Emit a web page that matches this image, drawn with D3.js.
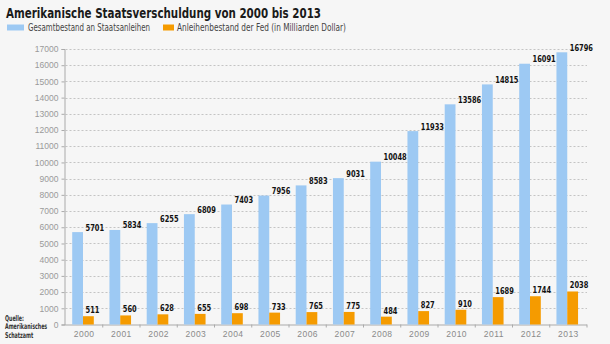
<!DOCTYPE html>
<html>
<head>
<meta charset="utf-8">
<script src="https://cdn.jsdelivr.net/npm/d3@7"></script>
<style>
  html, body { margin: 0; padding: 0; background: #f6f6f6; }
  svg { display: block; }
  .cond { font-family: "Liberation Sans Narrow", "DejaVu Sans Condensed", "Arial Narrow", sans-serif; }
  .tick text { font-family: "Liberation Sans", Arial, sans-serif; }
</style>
</head>
<body>
<svg width="610" height="344"></svg>
<script>
// Data
const years = ["2000","2001","2002","2003","2004","2005","2006","2007","2008","2009","2010","2011","2012","2013"];
const gesamt = [5701, 5834, 6255, 6809, 7403, 7956, 8583, 9031, 10048, 11933, 13586, 14815, 16091, 16796];
const fed = [511, 560, 628, 655, 698, 733, 765, 775, 484, 827, 910, 1689, 1744, 2038];
const yTicks = d3.range(0, 17001, 1000);
const seriesNames = ["Gesamtbestand an Staatsanleihen", "Anleihenbestand der Fed (in Milliarden Dollar)"];
const colors = ["#9dc9f3", "#f59b00"];

const width = 610, height = 344;
const plotLeft = 64.5, plotRight = 587, plotTop = 49, plotBottom = 324.5;

const svg = d3.select("svg");

// narrow a text horizontally so the condensed face fits
function squeeze(sel, factor) {
  sel.each(function () {
    const w = this.getComputedTextLength();
    d3.select(this).attr("textLength", w * factor).attr("lengthAdjust", "spacingAndGlyphs");
  });
}

svg.append("rect").attr("width", width).attr("height", height).attr("fill", "#f6f6f6");

const x = d3.scaleBand().domain(years).range([plotLeft + 1, plotRight]);
const inner = d3.scaleBand().domain([0, 1]).range([6.7, 28.3]);
const y = d3.scaleLinear().domain([0, 17000]).range([plotBottom, plotTop]);

// Gridlines
svg.append("g")
   .selectAll("line")
   .data(yTicks.filter(d => d > 0))
   .enter()
   .append("line")
   .attr("x1", plotLeft + 1)
   .attr("x2", plotRight)
   .attr("y1", d => Math.round(y(d)) + 0.5)
   .attr("y2", d => Math.round(y(d)) + 0.5)
   .attr("stroke", "#c4c4c4")
   .attr("stroke-dasharray", "2,2");

// Y axis
const yAxis = svg.append("g")
   .attr("transform", `translate(${plotLeft},0)`)
   .call(d3.axisLeft(y).tickValues(yTicks).tickSize(3).tickPadding(3).tickFormat(d3.format("d")));
yAxis.select(".domain").attr("stroke", "#aaa");
yAxis.selectAll(".tick line").attr("stroke", "#aaa");
yAxis.selectAll(".tick text").attr("fill", "#9a9a9a").attr("font-size", 8.5);

// X axis
const xAxis = svg.append("g")
   .attr("transform", `translate(0,${plotBottom})`)
   .call(d3.axisBottom(x).tickSize(0).tickPadding(6));
xAxis.select(".domain").attr("stroke", "#aaa").attr("d", `M${plotLeft},0.5H${plotRight}`);
xAxis.selectAll(".tick text").attr("fill", "#8a8a8a").attr("font-size", 8.5).attr("letter-spacing", 0.5);
xAxis.selectAll(".sep")
   .data(years)
   .enter()
   .append("line")
   .attr("x1", d => x(d) + x.bandwidth())
   .attr("x2", d => x(d) + x.bandwidth())
   .attr("y1", 0)
   .attr("y2", 3)
   .attr("stroke", "#aaa");

// Bars
const series = [gesamt, fed];
series.forEach((vals, s) => {
  svg.append("g")
     .selectAll("rect")
     .data(vals)
     .enter()
     .append("rect")
     .attr("x", (d, i) => x(years[i]) + inner(s))
     .attr("width", inner.bandwidth())
     .attr("y", d => y(d))
     .attr("height", d => plotBottom - y(d))
     .attr("fill", colors[s]);
});

// Value labels
series.forEach((vals, s) => {
  svg.append("g")
     .selectAll("text")
     .data(vals)
     .enter()
     .append("text")
     .attr("class", "cond")
     .attr("x", (d, i) => x(years[i]) + inner(1) + 2.5)
     .attr("y", d => y(d) - (s === 0 ? 1.5 : 3))
     .attr("font-size", 9.5)
     .attr("font-weight", "bold")
     .attr("fill", "#111")
     .text(d => d)
     .call(squeeze, 0.78);
});

// Title
svg.append("text")
   .attr("class", "cond")
   .attr("x", 6)
   .attr("y", 17.5)
   .attr("font-size", 14)
   .attr("font-weight", "bold")
   .attr("fill", "#1a1a1a")
   .text("Amerikanische Staatsverschuldung von 2000 bis 2013")
   .attr("textLength", 315)
   .attr("lengthAdjust", "spacingAndGlyphs");

// Legend
const legend = [
  { x: 7, w: 17, tx: 28, len: 122 },
  { x: 163, w: 11, tx: 177, len: 169 }
];
legend.forEach((l, i) => {
  svg.append("rect").attr("x", l.x).attr("y", 24.5).attr("width", l.w).attr("height", 6).attr("fill", colors[i]);
  svg.append("text")
     .attr("class", "cond")
     .attr("x", l.tx)
     .attr("y", 31)
     .attr("font-size", 10)
     .attr("fill", "#444")
     .text(seriesNames[i])
     .attr("textLength", l.len)
     .attr("lengthAdjust", "spacingAndGlyphs");
});

// Source note, scaled narrow as a block
const source = ["Quelle:", "Amerikanisches", "Schatzamt"];
svg.append("g")
   .attr("transform", "translate(5,0) scale(0.66,1)")
   .selectAll("text")
   .data(source)
   .enter()
   .append("text")
   .attr("class", "cond")
   .attr("x", 0)
   .attr("y", (d, i) => 321 + i * 8.3)
   .attr("font-size", 8)
   .attr("font-weight", "bold")
   .attr("fill", "#333")
   .text(d => d);
</script>
</body>
</html>
